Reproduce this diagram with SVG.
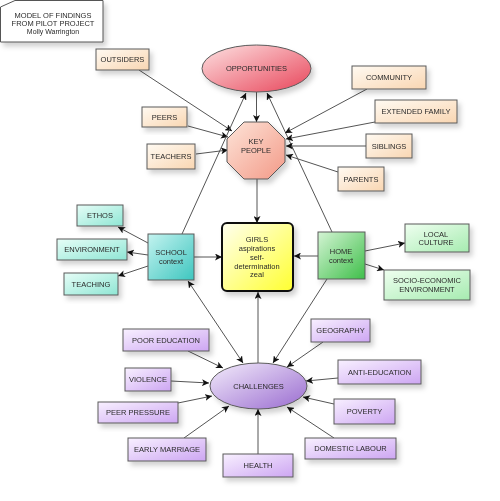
<svg xmlns="http://www.w3.org/2000/svg" width="500" height="501" viewBox="0 0 500 501">
<style>
text{font-family:"Liberation Sans",Arial,sans-serif;font-size:7.5px;fill:#2a2a2a;text-anchor:middle}
.b{stroke:#5a5a5a;stroke-width:1}
.c{stroke:#555;stroke-width:1;fill:none}
.peach{fill:url(#gPeach)}
.cyan{fill:url(#gCyan)}
.green{fill:url(#gGreen)}
.purp{fill:url(#gPurp)}
.node{filter:url(#sh)}
</style>
<defs>
<filter id="sh" x="-20%" y="-20%" width="150%" height="160%">
<feDropShadow dx="3" dy="4" stdDeviation="2.5" flood-color="#000" flood-opacity="0.18"/>
</filter>
<linearGradient id="gPeach" x1="0" y1="0" x2="1" y2="1"><stop offset="0" stop-color="#fffaf2"/><stop offset="1" stop-color="#f9d6b2"/></linearGradient>
<linearGradient id="gCyan" x1="0" y1="0" x2="1" y2="1"><stop offset="0" stop-color="#e6fdf7"/><stop offset="1" stop-color="#8fe6d4"/></linearGradient>
<linearGradient id="gCyanD" x1="0" y1="0" x2="1" y2="1"><stop offset="0" stop-color="#c4f3f0"/><stop offset="1" stop-color="#3ec6bf"/></linearGradient>
<linearGradient id="gGreen" x1="0" y1="0" x2="1" y2="1"><stop offset="0" stop-color="#effff0"/><stop offset="1" stop-color="#a6ebb0"/></linearGradient>
<linearGradient id="gGreenD" x1="0" y1="0" x2="1" y2="1"><stop offset="0" stop-color="#d4f4d4"/><stop offset="1" stop-color="#3fbf4a"/></linearGradient>
<linearGradient id="gPurp" x1="0" y1="0" x2="1" y2="1"><stop offset="0" stop-color="#f8f0ff"/><stop offset="1" stop-color="#cda6f2"/></linearGradient>
<linearGradient id="gPurpD" x1="0" y1="0" x2="1" y2="1"><stop offset="0" stop-color="#f3ecfb"/><stop offset="1" stop-color="#9a6cd0"/></linearGradient>
<linearGradient id="gRed" x1="0" y1="0" x2="1" y2="1"><stop offset="0" stop-color="#fde2e2"/><stop offset="1" stop-color="#e8455a"/></linearGradient>
<linearGradient id="gKey" x1="0" y1="0" x2="1" y2="1"><stop offset="0" stop-color="#fde4d8"/><stop offset="1" stop-color="#f39a88"/></linearGradient>
<linearGradient id="gYel" x1="0" y1="0" x2="1" y2="1"><stop offset="0" stop-color="#fffff0"/><stop offset="1" stop-color="#ffff30"/></linearGradient>
<marker id="ar" viewBox="0 0 10 10" refX="10" refY="5" markerWidth="7" markerHeight="7" markerUnits="userSpaceOnUse" orient="auto-start-reverse">
<path d="M0,0 L10,5 L0,10 L2.5,5 Z" fill="#111"/>
</marker>
</defs>
<rect width="500" height="501" fill="#fff"/>

<g id="connectors">
<line class="c" x1="139" y1="70" x2="232" y2="131" marker-end="url(#ar)"/>
<line class="c" x1="188" y1="126" x2="228" y2="137" marker-end="url(#ar)"/>
<line class="c" x1="196" y1="154" x2="228" y2="150" marker-end="url(#ar)"/>
<line class="c" x1="182" y1="234" x2="246" y2="93" marker-end="url(#ar)"/>
<line class="c" x1="332" y1="232" x2="267" y2="93" marker-end="url(#ar)"/>
<line class="c" x1="256.5" y1="92" x2="256.5" y2="122" marker-end="url(#ar)"/>
<line class="c" x1="257" y1="179" x2="257" y2="223" marker-end="url(#ar)"/>
<line class="c" x1="367" y1="89" x2="285" y2="133" marker-end="url(#ar)"/>
<line class="c" x1="375" y1="122" x2="286" y2="139" marker-end="url(#ar)"/>
<line class="c" x1="366" y1="146" x2="286" y2="146" marker-end="url(#ar)"/>
<line class="c" x1="338" y1="172" x2="286" y2="155" marker-end="url(#ar)"/>
<line class="c" x1="148" y1="243" x2="118" y2="227" marker-end="url(#ar)"/>
<line class="c" x1="148" y1="255" x2="127" y2="252" marker-end="url(#ar)"/>
<line class="c" x1="148" y1="266" x2="118" y2="276" marker-end="url(#ar)"/>
<line class="c" x1="194" y1="257" x2="222" y2="257" marker-end="url(#ar)"/>
<line class="c" x1="318" y1="256" x2="294" y2="256" marker-end="url(#ar)"/>
<line class="c" x1="365" y1="251" x2="405" y2="243" marker-end="url(#ar)"/>
<line class="c" x1="365" y1="264" x2="384" y2="270" marker-end="url(#ar)"/>
<line class="c" x1="188" y1="281" x2="243" y2="363" marker-start="url(#ar)" marker-end="url(#ar)"/>
<line class="c" x1="327" y1="279" x2="273" y2="363" marker-end="url(#ar)"/>
<line class="c" x1="258" y1="363" x2="258" y2="292" marker-end="url(#ar)"/>
<line class="c" x1="188" y1="351" x2="223" y2="368" marker-end="url(#ar)"/>
<line class="c" x1="171" y1="381" x2="209" y2="383" marker-end="url(#ar)"/>
<line class="c" x1="178" y1="403" x2="212" y2="396" marker-end="url(#ar)"/>
<line class="c" x1="184" y1="438" x2="229" y2="406" marker-end="url(#ar)"/>
<line class="c" x1="258" y1="454" x2="258" y2="409" marker-end="url(#ar)"/>
<line class="c" x1="323" y1="342" x2="287" y2="367" marker-end="url(#ar)"/>
<line class="c" x1="338" y1="378" x2="306" y2="381" marker-end="url(#ar)"/>
<line class="c" x1="334" y1="404" x2="303" y2="397" marker-end="url(#ar)"/>
<line class="c" x1="334" y1="438" x2="287" y2="407" marker-end="url(#ar)"/>
</g>

<g id="title" class="node">
<path d="M15,0.5 L103,0.5 L103,42 L0.5,42 L0.5,7 Z" fill="#fff" stroke="#555" stroke-width="1"/>
<text x="53" y="17.5">MODEL OF FINDINGS</text>
<text x="53" y="25.5">FROM PILOT PROJECT</text>
<text x="53" y="34" style="font-size:7px">Molly Warrington</text>
</g>

<g id="opportunities" class="node">
<ellipse cx="256.5" cy="68.5" rx="54.5" ry="23.5" fill="url(#gRed)" class="b"/>
<text x="256.5" y="71">OPPORTUNITIES</text>
</g>
<g id="keypeople" class="node">
<polygon points="244,122 268,122 285,139 285,162 268,179 244,179 227,162 227,139" fill="url(#gKey)" class="b"/>
<text x="256" y="143.5">KEY</text>
<text x="256" y="152.5">PEOPLE</text>
</g>
<g id="outsiders" class="node"><rect x="96" y="49" width="53" height="21" class="b peach"/><text x="122.5" y="62">OUTSIDERS</text></g>
<g id="peers" class="node"><rect x="142" y="107" width="45" height="20" class="b peach"/><text x="164.5" y="119.5">PEERS</text></g>
<g id="teachers" class="node"><rect x="147" y="144" width="48" height="25" class="b peach"/><text x="171" y="159">TEACHERS</text></g>
<g id="community" class="node"><rect x="352" y="66" width="74" height="23" class="b peach"/><text x="389" y="80">COMMUNITY</text></g>
<g id="extfamily" class="node"><rect x="375" y="100" width="82" height="23" class="b peach"/><text x="416" y="114">EXTENDED FAMILY</text></g>
<g id="siblings" class="node"><rect x="366" y="134" width="46" height="24" class="b peach"/><text x="389" y="148.5">SIBLINGS</text></g>
<g id="parents" class="node"><rect x="338" y="167" width="46" height="24" class="b peach"/><text x="361" y="181.5">PARENTS</text></g>

<g id="girls" class="node">
<rect x="222" y="223" width="71" height="68" rx="5" fill="url(#gYel)" stroke="#111" stroke-width="2"/>
<text x="257" y="241.5">GIRLS</text>
<text x="257" y="250.5">aspirations</text>
<text x="257" y="259.5">self-</text>
<text x="257" y="268.5">determination</text>
<text x="257" y="277">zeal</text>
</g>
<g id="school" class="node">
<rect x="148" y="234" width="46" height="46" fill="url(#gCyanD)" class="b"/>
<text x="171" y="254.5">SCHOOL</text>
<text x="171" y="263.5">context</text>
</g>
<g id="ethos" class="node"><rect x="77" y="205" width="46" height="21" class="b cyan"/><text x="100" y="218">ETHOS</text></g>
<g id="environment" class="node"><rect x="57" y="239" width="70" height="21" class="b cyan"/><text x="92" y="252">ENVIRONMENT</text></g>
<g id="teaching" class="node"><rect x="64" y="273" width="54" height="22" class="b cyan"/><text x="91" y="286.5">TEACHING</text></g>

<g id="home" class="node">
<rect x="318" y="232" width="47" height="47" fill="url(#gGreenD)" class="b"/>
<text x="341" y="253.5">HOME</text>
<text x="341" y="262.5">context</text>
</g>
<g id="localculture" class="node"><rect x="405" y="224" width="64" height="28" class="b green"/><text x="436" y="236.5">LOCAL</text><text x="436" y="244.5">CULTURE</text></g>
<g id="socioeconomic" class="node"><rect x="384" y="270" width="86" height="30" class="b green"/><text x="427" y="282.5">SOCIO-ECONOMIC</text><text x="427" y="291.5">ENVIRONMENT</text></g>

<g id="challenges" class="node">
<ellipse cx="258.5" cy="386" rx="48.5" ry="23" fill="url(#gPurpD)" class="b"/>
<text x="258.5" y="388.5">CHALLENGES</text>
</g>
<g id="pooreducation" class="node"><rect x="123" y="329" width="86" height="22" class="b purp"/><text x="166" y="342.5">POOR EDUCATION</text></g>
<g id="violence" class="node"><rect x="125" y="368" width="46" height="23" class="b purp"/><text x="148" y="382">VIOLENCE</text></g>
<g id="peerpressure" class="node"><rect x="98" y="402" width="80" height="21" class="b purp"/><text x="138" y="415">PEER PRESSURE</text></g>
<g id="earlymarriage" class="node"><rect x="128" y="438" width="78" height="23" class="b purp"/><text x="167" y="452">EARLY MARRIAGE</text></g>
<g id="health" class="node"><rect x="223" y="454" width="70" height="23" class="b purp"/><text x="258" y="468">HEALTH</text></g>
<g id="geography" class="node"><rect x="311" y="319" width="59" height="23" class="b purp"/><text x="340.5" y="333">GEOGRAPHY</text></g>
<g id="antieducation" class="node"><rect x="338" y="360" width="83" height="24" class="b purp"/><text x="379.5" y="374.5">ANTI-EDUCATION</text></g>
<g id="poverty" class="node"><rect x="334" y="399" width="61" height="25" class="b purp"/><text x="364.5" y="414">POVERTY</text></g>
<g id="domesticlabour" class="node"><rect x="305" y="438" width="91" height="21" class="b purp"/><text x="350.5" y="451">DOMESTIC LABOUR</text></g>
</svg>
